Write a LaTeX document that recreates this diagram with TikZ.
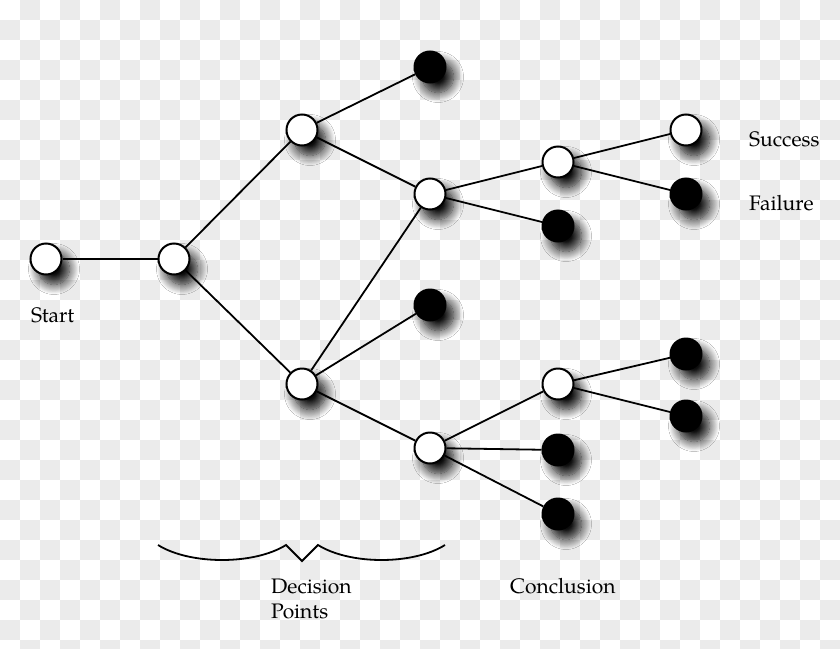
\documentclass[tikz,border=0pt]{standalone}
\usepackage{fontspec}
\setmainfont{TeX Gyre Pagella}
\usetikzlibrary{shadows.blur}
\definecolor{chk}{HTML}{EBEBEB}
\tikzset{
  dot/.style={circle, draw=black, line width=2pt, minimum size=31pt, inner sep=0pt,
    blur shadow={shadow xshift=8pt, shadow yshift=-10pt, shadow blur radius=10pt, shadow opacity=95, shadow blur steps=12}},
  wdot/.style={dot, fill=white},
  bdot/.style={dot, fill=black},
  edge/.style={line width=1.8pt, draw=black},
  lbl/.style={anchor=base west, inner sep=0pt, font=\fontsize{21}{25}\selectfont},
}
\begin{document}
\begin{tikzpicture}[x=1pt,y=-1pt]
\useasboundingbox (0,0) rectangle (840,648);
\fill[white] (0,0) rectangle (840,648);
\foreach \i in {0,...,41}{
  \foreach \j in {0,...,32}{
    \pgfmathparse{int(mod(\i+\j,2))}
    \ifnum\pgfmathresult=1
      \fill[chk] (\i*20,\j*20) rectangle ++(20,20);
    \fi
  }
}
% nodes
\node[wdot] (s) at (46,259) {};
\node[wdot] (a) at (174,259) {};
\node[wdot] (b) at (302,130) {};
\node[wdot] (c) at (302,384) {};
\node[bdot] (d) at (430,67) {};
\node[wdot] (e) at (430,194) {};
\node[bdot] (f) at (430,305) {};
\node[wdot] (g) at (430,448) {};
\node[wdot] (h) at (558,162) {};
\node[bdot] (i) at (558,226) {};
\node[wdot] (j) at (686,130) {};
\node[bdot] (k) at (686,194) {};
\node[wdot] (l) at (558,384) {};
\node[bdot] (m) at (686,354) {};
\node[bdot] (n) at (686,416) {};
\node[bdot] (o) at (558,450) {};
\node[bdot] (p) at (558,514) {};
% edges
\foreach \u/\v in {s/a,a/b,a/c,b/d,b/e,c/e,c/f,c/g,e/h,e/i,h/j,h/k,g/l,g/o,g/p,l/m,l/n}
  \draw[edge] (\u) -- (\v);
% labels
\node[lbl] (tstart) at (31,322) {Start};
\node[lbl] (tsucc) at (749,146) {Success};
\node[lbl] (tfail) at (749,210) {Failure};
\node[lbl] (tdec1) at (271,593) {Decision};
\node[lbl] (tdec2) at (271,618) {Points};
\node[lbl] (tconc) at (510,593) {Conclusion};
% brace
\draw[line width=1.8pt] (158,545) .. controls (190,565) and (254,565) .. (286,545)
  -- (302,561) -- (318,545) .. controls (350,565) and (413,565) .. (445,545);
\end{tikzpicture}
\end{document}
